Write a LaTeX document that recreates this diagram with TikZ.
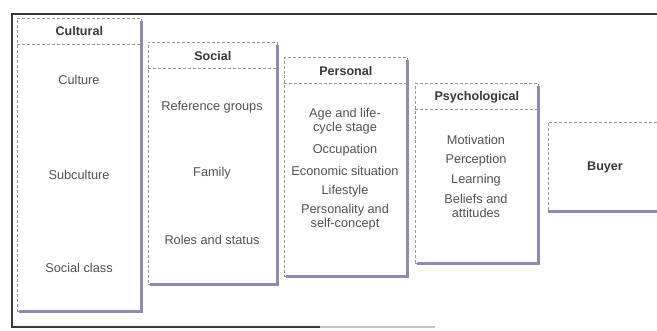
\documentclass[tikz,border=0pt]{standalone}
\usepackage{fontspec}
\setmainfont{Liberation Sans}
\usetikzlibrary{positioning}
\definecolor{framegray}{RGB}{55,55,60}
\definecolor{edgegray}{RGB}{150,150,160}
\definecolor{shadowblue}{RGB}{140,140,178}
\definecolor{textgray}{RGB}{80,80,88}

\begin{document}
\begin{tikzpicture}[x=1bp,y=-1bp,font=\fontsize{12.8}{14.5}\selectfont,
  box/.style={draw=edgegray,densely dashed,line width=0.6bp,anchor=north west,inner sep=0pt},
  title/.style={font=\fontsize{12.6}{14.5}\selectfont\bfseries,text=framegray},
  item/.style={align=center,text=textgray,inner sep=1bp},
  sep/.style={draw=edgegray,densely dashed,line width=0.6bp},
  shadowline/.style={draw=shadowblue,line width=3bp},
  frameline/.style={draw=framegray,line width=1.8bp}]
\useasboundingbox (0,0) rectangle (657,330);
% outer frame, right side cut off
\coordinate (fr) at (657,14);
\coordinate (ftl) at (12,14);
\coordinate (fbl) at (12,327);
\coordinate (fbm) at (320,327);
\coordinate (fbr) at (435,327);
\draw[frameline] (fr) -- (ftl) -- (fbl) -- (fbm);
\draw[frameline,draw=framegray!30] (fbm) -- (fbr);

% the four groups of factors
\node[box,minimum width=124bp,minimum height=293bp] (cult) at (17,18) {};
\node[box,minimum width=129bp,minimum height=242bp] (soc) at (148,42) {};
\node[box,minimum width=123bp,minimum height=219bp] (pers) at (284,57) {};
\node[box,minimum width=123bp,minimum height=180bp] (psych) at (415,83) {};
\foreach \b in {cult,soc,pers,psych}{
  \draw[sep] ([yshift=-26bp]\b.north west) -- ([yshift=-26bp]\b.north east);
  \draw[shadowline] ([yshift=-3bp]\b.north east) -- (\b.south east) -- ([xshift=2bp]\b.south west);
}
\node[title] (cultT) at ([yshift=-13bp]cult.north) {Cultural};
\node[title] (socT) at ([yshift=-14bp]soc.north) {Social};
\node[title] (persT) at ([yshift=-14bp]pers.north) {Personal};
\node[title] (psychT) at ([yshift=-14bp]psych.north) {Psychological};

\node[item] (culture) at (79,80) {Culture};
\node[item] (subcult) at (79,175) {Subculture};
\node[item] (class) at (79,268) {Social class};

\node[item] (refgr) at (212,107) {Reference groups};
\node[item] (family) at (212,173) {Family};
\node[item] (roles) at (212,240) {Roles and status};

\node[item] (age) at (345,121) {Age and life-\\cycle stage};
\node[item] (occup) at (345,150) {Occupation};
\node[item] (econ) at (345,171) {Economic situation};
\node[item] (life) at (345,191) {Lifestyle};
\node[item] (self) at (345,217) {Personality and\\self-concept};

\node[item] (motiv) at (476,140) {Motivation};
\node[item] (percep) at (476,160) {Perception};
\node[item] (learn) at (476,180) {Learning};
\node[item] (belief) at (476,206) {Beliefs and\\attitudes};

% buyer, right edge outside the picture
\coordinate (btr) at (657,122);
\coordinate (btl) at (548,122);
\coordinate (bbl) at (548,211);
\coordinate (bbr) at (657,211);
\draw[sep] (btr) -- (btl) -- (bbl);
\draw[shadowline] (bbl) -- (bbr);
\node[title] (buyer) at (605,167) {Buyer};
\end{tikzpicture}
\end{document}
